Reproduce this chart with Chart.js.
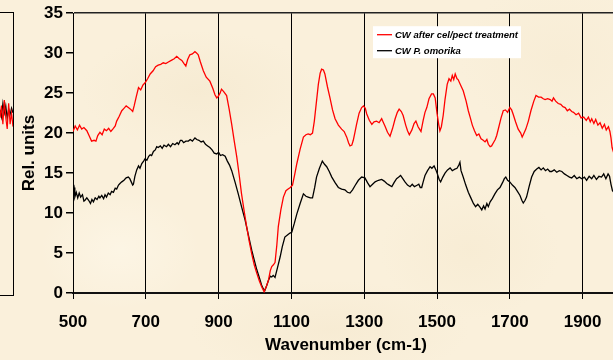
<!DOCTYPE html>
<html>
<head>
<meta charset="utf-8">
<script src="https://cdn.jsdelivr.net/npm/chart.js@4"></script>
<style>
  html, body { margin: 0; padding: 0; width: 613px; height: 360px; overflow: hidden; }
  body {
    background-color: #faf0db;
    background-image:
      radial-gradient(ellipse 120px 60px at 200px 90px, rgba(240,226,196,0.35), rgba(240,226,196,0)),
      radial-gradient(ellipse 90px 70px at 470px 250px, rgba(242,228,198,0.3), rgba(242,228,198,0)),
      radial-gradient(ellipse 140px 50px at 330px 330px, rgba(240,225,194,0.3), rgba(240,225,194,0)),
      radial-gradient(ellipse 100px 80px at 560px 60px, rgba(243,230,202,0.3), rgba(243,230,202,0)),
      radial-gradient(ellipse 80px 60px at 120px 250px, rgba(255,250,238,0.5), rgba(255,250,238,0));
    position: relative;
  }
  #main { position: absolute; left: 0; top: 0; }
  #side { position: absolute; left: 0; top: 12px; width: 13px; height: 282px;
          border-top: 1px solid #000; border-right: 1px solid #000; border-bottom: 1px solid #000; }
  #sideChart { position: absolute; left: 0; top: 0; }
</style>
</head>
<body>
<div id="side"><canvas id="sideChart" width="13" height="282"></canvas></div>
<canvas id="main" width="626" height="360"></canvas>
<script>
// Datos de la gráfica principal (número de onda, unidades relativas)
var xTicks = [500, 700, 900, 1100, 1300, 1500, 1700, 1900];

var redX = [500, 506, 512, 518, 524, 530, 538, 545, 551, 558, 563, 568, 574, 580, 586, 592, 598, 604, 611, 616,
  620, 627, 634, 640, 646, 652, 658, 664, 668, 674, 680, 686, 692, 698, 705, 712, 720, 727, 734, 741,
  748, 755, 762, 770, 778, 785, 792, 799, 805, 810, 815, 821, 828, 835, 840, 844, 850, 858, 866, 876,
  884, 890, 895, 899, 904, 908, 914, 922, 929, 936, 943, 950, 957, 963, 970, 977, 984, 991, 998, 1005,
  1012, 1018, 1025, 1031, 1037, 1042, 1046, 1050, 1055, 1060, 1064, 1071, 1078, 1085, 1091, 1097, 1103, 1109, 1115, 1124,
  1133, 1140, 1146, 1152, 1158, 1163, 1168, 1174, 1179, 1183, 1188, 1192, 1199, 1206, 1213, 1220, 1229, 1238, 1245, 1252,
  1257, 1261, 1266, 1270, 1275, 1279, 1286, 1293, 1298, 1303, 1307, 1314, 1321, 1327, 1334, 1341, 1348, 1352, 1357, 1364,
  1371, 1378, 1385, 1391, 1396, 1402, 1407, 1414, 1419, 1424, 1431, 1437, 1442, 1448, 1452, 1456, 1462, 1467, 1472, 1478,
  1485, 1490, 1495, 1500, 1505, 1508, 1512, 1517, 1522, 1528, 1533, 1538, 1542, 1546, 1550, 1555, 1558, 1565, 1572, 1580,
  1586, 1591, 1597, 1603, 1609, 1615, 1621, 1627, 1632, 1637, 1641, 1646, 1650, 1655, 1660, 1664, 1670, 1676, 1682, 1688,
  1694, 1700, 1705, 1709, 1716, 1723, 1730, 1734, 1737, 1744, 1751, 1758, 1766, 1772, 1779, 1786, 1792, 1797, 1804, 1811,
  1816, 1820, 1826, 1833, 1840, 1846, 1852, 1858, 1864, 1870, 1875, 1882, 1889, 1896, 1903, 1910, 1916, 1921, 1925, 1931,
  1936, 1942, 1948, 1954, 1960, 1965, 1971, 1975, 1978, 1981, 1985];
var redY = [20.2, 20.9, 20.4, 21.0, 20.5, 20.7, 20.3, 19.6, 19.0, 19.1, 19.0, 19.7, 20.1, 19.8, 20.5, 20.3, 20.6, 20.2, 20.6, 20.9,
  21.5, 22.1, 22.8, 23.1, 23.4, 23.2, 23.0, 22.7, 23.4, 24.6, 25.7, 25.4, 26.0, 26.3, 26.8, 27.4, 27.8, 28.3, 28.5, 28.6,
  28.8, 28.7, 28.9, 29.1, 29.3, 29.6, 29.3, 29.1, 28.7, 28.4, 29.2, 29.8, 29.9, 30.2, 30.0, 29.8, 28.9, 27.8, 27.0, 26.5,
  25.6, 24.8, 24.4, 24.6, 25.0, 25.5, 25.2, 24.7, 23.0, 21.1, 19.0, 17.0, 14.6, 12.4, 10.3, 8.3, 6.5, 4.9, 3.5, 2.45,
  1.5, 0.8, 0.15, 0.8, 1.6, 2.8, 3.3, 3.5, 3.8, 6.0, 8.3, 10.4, 12.0, 12.8, 13.0, 13.2, 13.5, 14.8, 16.2, 18.0,
  19.5, 19.8, 19.9, 19.8, 20.0, 21.5, 23.6, 26.1, 27.5, 28.0, 27.9, 27.4, 25.8, 24.4, 22.9, 21.8, 21.0, 20.5, 20.2, 19.5,
  18.8, 18.4, 18.5, 19.1, 20.2, 21.1, 22.5, 23.2, 23.4, 23.1, 22.4, 21.6, 21.1, 21.4, 21.5, 21.3, 21.8, 21.4, 20.9, 20.1,
  19.6, 20.6, 21.8, 22.6, 23.0, 22.7, 22.2, 21.0, 20.3, 19.8, 20.4, 21.2, 21.5, 20.8, 20.5, 20.2, 21.6, 22.6, 23.2, 24.3,
  24.9, 24.9, 24.4, 22.5, 21.0, 20.3, 20.8, 22.2, 24.2, 26.1, 26.8, 26.5, 27.2, 26.7, 27.4, 26.8, 26.7, 26.0, 25.3, 24.0,
  22.8, 22.0, 21.0, 20.3, 19.7, 19.9, 19.3, 19.1, 18.9, 19.2, 18.6, 18.3, 18.4, 18.8, 19.2, 19.7, 20.8, 21.9, 22.8, 22.9,
  22.6, 23.2, 22.9, 22.4, 21.4, 20.5, 20.0, 19.5, 19.8, 20.5, 21.5, 22.8, 24.0, 24.7, 24.5, 24.5, 24.3, 24.2, 24.3, 24.2,
  24.0, 24.4, 24.0, 23.7, 23.6, 23.3, 23.2, 22.8, 23.0, 22.7, 22.6, 22.3, 22.5, 21.9, 22.0, 21.6, 22.0, 21.4, 21.8, 21.2,
  21.7, 21.0, 21.3, 20.6, 21.1, 20.4, 20.8, 20.2, 19.4, 18.2, 17.6];

var blackX = [500, 503, 505, 509, 513, 517, 521, 526, 530, 533, 538, 543, 548, 552, 556, 561, 566, 571, 574, 579,
  584, 588, 592, 597, 602, 606, 611, 616, 620, 625, 629, 634, 640, 646, 652, 656, 660, 664, 666, 670,
  675, 680, 684, 689, 694, 698, 703, 708, 712, 716, 721, 726, 730, 734, 740, 745, 750, 757, 762, 768,
  774, 780, 786, 790, 795, 799, 804, 810, 817, 822, 828, 835, 840, 846, 852, 858, 864, 870, 876, 882,
  888, 895, 900, 905, 911, 918, 924, 930, 936, 945, 954, 963, 973, 982, 991, 998, 1005, 1012, 1018, 1023,
  1027, 1032, 1037, 1042, 1046, 1050, 1055, 1062, 1069, 1075, 1082, 1090, 1096, 1101, 1108, 1115, 1124, 1133, 1140, 1146,
  1152, 1158, 1164, 1169, 1177, 1185, 1191, 1197, 1204, 1211, 1220, 1229, 1238, 1247, 1254, 1261, 1268, 1275, 1284, 1293,
  1302, 1309, 1316, 1323, 1330, 1339, 1348, 1355, 1362, 1369, 1376, 1382, 1389, 1395, 1400, 1406, 1412, 1419, 1426, 1432,
  1438, 1444, 1450, 1454, 1458, 1462, 1467, 1474, 1481, 1486, 1492, 1497, 1501, 1506, 1510, 1516, 1522, 1529, 1536, 1542,
  1549, 1555, 1560, 1563, 1566, 1572, 1579, 1586, 1593, 1600, 1606, 1612, 1618, 1623, 1628, 1632, 1637, 1641, 1646, 1652,
  1659, 1666, 1673, 1680, 1685, 1689, 1694, 1700, 1707, 1714, 1721, 1728, 1733, 1737, 1742, 1746, 1753, 1760, 1767, 1774,
  1780, 1786, 1792, 1798, 1804, 1810, 1815, 1822, 1829, 1836, 1843, 1850, 1857, 1864, 1870, 1877, 1884, 1891, 1898, 1905,
  1911, 1918, 1925, 1931, 1938, 1945, 1952, 1958, 1964, 1970, 1974, 1978, 1982, 1986];
var blackY = [12.8, 13.2, 12.0, 12.6, 11.9, 12.5, 12.0, 12.3, 11.5, 11.6, 11.9, 11.6, 11.2, 11.7, 11.4, 11.9, 11.7, 12.1, 11.9, 12.2,
  11.8, 12.3, 12.0, 12.5, 12.3, 12.7, 12.6, 13.1, 13.0, 13.5, 13.7, 13.9, 14.1, 14.4, 14.5, 14.3, 13.9, 13.5, 13.6, 14.6,
  15.4, 15.9, 15.6, 16.2, 16.5, 16.8, 16.6, 17.1, 17.3, 17.2, 17.7, 17.9, 18.3, 18.2, 18.4, 18.1, 18.5, 18.3, 18.6, 18.3,
  18.7, 18.55, 18.8, 18.6, 19.1, 19.1, 18.8, 19.0, 19.0, 19.2, 19.0, 19.4, 19.2, 19.1, 18.9, 19.0, 18.6, 18.4, 18.2, 17.9,
  17.5, 17.4, 17.6, 17.2, 17.3, 17.1, 16.5, 16.0, 15.3, 13.9, 12.4, 10.8, 9.1, 7.2, 5.35, 4.1, 2.9, 1.9, 1.0, 0.5,
  0.3, 0.9, 1.6, 2.1, 2.0, 2.2, 1.95, 3.2, 4.5, 5.8, 7.0, 7.3, 7.5, 7.6, 8.7, 9.9, 11.2, 12.4, 12.1, 12.0,
  11.9, 11.9, 13.2, 14.5, 15.6, 16.5, 16.1, 15.8, 15.2, 14.5, 13.8, 13.2, 13.0, 12.9, 12.6, 12.5, 12.9, 13.45, 14.1, 14.5,
  14.4, 13.8, 13.3, 13.6, 13.9, 14.1, 14.2, 14.0, 13.7, 13.5, 13.3, 13.8, 14.3, 14.5, 14.7, 14.3, 13.9, 13.5, 13.3, 13.6,
  13.3, 13.45, 13.6, 13.2, 13.2, 13.9, 14.7, 15.3, 15.8, 15.6, 15.9, 15.4, 14.9, 14.2, 13.9, 14.5, 15.0, 15.4, 15.65, 15.3,
  15.5, 15.6, 16.0, 16.35, 15.3, 14.5, 13.5, 12.6, 11.9, 11.2, 10.8, 11.1, 10.75, 10.4, 10.9, 10.5, 11.2, 10.8, 11.4, 11.8,
  12.4, 12.9, 13.2, 13.8, 14.3, 14.5, 14.1, 13.9, 13.5, 13.2, 12.7, 12.2, 11.6, 11.25, 11.6, 12.0, 13.3, 14.5, 15.2, 15.5,
  15.7, 15.4, 15.65, 15.3, 15.5, 15.2, 15.2, 15.4, 15.1, 15.3, 15.2, 14.9, 14.7, 14.5, 14.4, 14.7, 14.3, 14.5, 14.3, 14.5,
  14.1, 14.6, 14.3, 14.7, 14.2, 14.6, 14.5, 14.9, 14.3, 14.9, 14.6, 13.6, 12.8, 12.6];

// Trozo de la gráfica vecina que asoma por la izquierda
var sideRed = [22.0, 23.5, 21.2, 24.2, 22.0, 20.6, 23.8, 21.2, 22.6, 20.9];
var sideBlack = [23.0, 22.1, 23.8, 22.6, 23.5, 21.9, 23.1, 22.4, 23.2, 22.6];

function toPoints(xs, ys) {
  return xs.map(function (x, i) { return {x: x, y: ys[i]}; });
}

var fuente = "'Liberation Sans', Arial, sans-serif";

// Leyenda con caja blanca dentro del área de la gráfica
var leyendaCaja = {
  id: 'leyendaCaja',
  afterDraw: function (chart) {
    var ctx = chart.ctx;
    var a = chart.chartArea;
    var x = a.left + 300, y = a.top + 13;
    ctx.save();
    ctx.fillStyle = '#ffffff';
    ctx.fillRect(x, y, 148, 32);
    ctx.font = 'italic bold 9.5px ' + fuente;
    ctx.textBaseline = 'middle';
    chart.data.datasets.forEach(function (ds, i) {
      var ly = y + 8.5 + i * 16;
      ctx.strokeStyle = ds.borderColor;
      ctx.lineWidth = 1.3;
      ctx.beginPath();
      ctx.moveTo(x + 4, ly);
      ctx.lineTo(x + 19, ly);
      ctx.stroke();
      ctx.fillStyle = '#000';
      ctx.fillText(ds.label, x + 22, ly + 0.5);
    });
    ctx.restore();
  }
};

var grafica = new Chart('main', {
  type: 'line',
  data: {
    datasets: [
      { label: 'CW after cel/pect treatment', data: toPoints(redX, redY),
        borderColor: '#ff0000', borderWidth: 1.3, pointRadius: 0, tension: 0 },
      { label: 'CW P. omorika', data: toPoints(blackX, blackY),
        borderColor: '#000000', borderWidth: 1.3, pointRadius: 0, tension: 0 }
    ]
  },
  options: {
    responsive: false,
    animation: false,
    devicePixelRatio: 1,
    layout: { padding: { top: 12, right: 7, bottom: 0, left: 0 } },
    plugins: { legend: { display: false }, tooltip: { enabled: false } },
    scales: {
      x: {
        type: 'linear', min: 500, max: 2000,
        afterBuildTicks: function (s) { s.ticks = xTicks.map(function (v) { return {value: v}; }); },
        afterFit: function (s) { s.height = 67; },
        grid: { color: '#000', lineWidth: 1, tickLength: 6, tickColor: '#000' },
        border: { display: true, color: '#111', width: 2 },
        ticks: { color: '#000', padding: 13, maxRotation: 0,
                 callback: function (v) { return String(v); },
                 font: { family: fuente, size: 17, weight: 'bold' } },
        title: { display: true, text: 'Wavenumber (cm-1)', color: '#000', padding: { top: 0, bottom: 4 },
                 font: { family: fuente, size: 17, weight: 'bold' } }
      },
      y: {
        min: 0, max: 35,
        ticks: { stepSize: 5, color: '#000', padding: 3, font: { family: fuente, size: 17, weight: 'bold' } },
        afterFit: function (s) { s.width = 73; },
        grid: {
          color: function (c) { return c.tick && c.tick.value === 35 ? '#222' : 'rgba(0,0,0,0)'; },
          lineWidth: 1.5, tickLength: 7, tickColor: '#000'
        },
        border: { display: true, color: '#000', width: 1 },
        title: { display: true, text: 'Rel. units', color: '#000', padding: { top: 19, bottom: 0 },
                 font: { family: fuente, size: 17, weight: 'bold' } }
      }
    }
  },
  plugins: [leyendaCaja]
});

var lado = new Chart('sideChart', {
  type: 'line',
  data: {
    labels: sideRed.map(function (v, i) { return i; }),
    datasets: [
      { data: sideRed, borderColor: '#ff0000', borderWidth: 1.2, pointRadius: 0 },
      { data: sideBlack, borderColor: '#000000', borderWidth: 1.2, pointRadius: 0 }
    ]
  },
  options: {
    responsive: false, animation: false, devicePixelRatio: 1,
    plugins: { legend: { display: false }, tooltip: { enabled: false } },
    scales: { x: { display: false }, y: { display: false, min: 0, max: 35 } }
  }
});
</script>
</body>
</html>
